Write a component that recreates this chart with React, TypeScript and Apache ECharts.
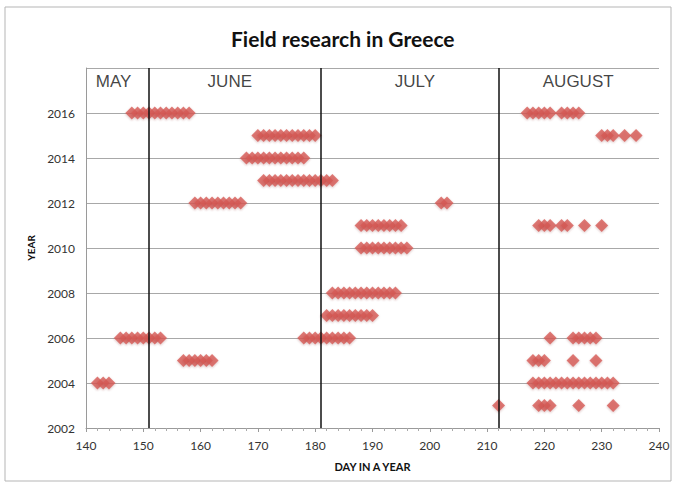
import React, { useEffect, useRef } from "react";
import * as echarts from "echarts";

const titleText = "Field research in Greece";
const xAxisName = "DAY IN A YEAR";
const yAxisName = "YEAR";

// Days of the year with field research, per year
const days2016 = [148, 149, 150, 151, 152, 153, 154, 155, 156, 157, 158, 217, 218, 219, 220, 221, 223, 224, 225, 226];
const days2015 = [170, 171, 172, 173, 174, 175, 176, 177, 178, 179, 180, 230, 231, 232, 234, 236];
const days2014 = [168, 169, 170, 171, 172, 173, 174, 175, 176, 177, 178];
const days2013 = [171, 172, 173, 174, 175, 176, 177, 178, 179, 180, 181, 182, 183];
const days2012 = [159, 160, 161, 162, 163, 164, 165, 166, 167, 202, 203];
const days2011 = [188, 189, 190, 191, 192, 193, 194, 195, 219, 220, 221, 223, 224, 227, 230];
const days2010 = [188, 189, 190, 191, 192, 193, 194, 195, 196];
const days2008 = [183, 184, 185, 186, 187, 188, 189, 190, 191, 192, 193, 194];
const days2007 = [182, 183, 184, 185, 186, 187, 188, 189, 190];
const days2006 = [146, 147, 148, 149, 150, 151, 152, 153, 178, 179, 180, 181, 182, 183, 184, 185, 186, 221, 225, 226, 227, 228, 229];
const days2005 = [157, 158, 159, 160, 161, 162, 218, 219, 220, 225, 229];
const days2004 = [142, 143, 144, 218, 219, 220, 221, 222, 223, 224, 225, 226, 227, 228, 229, 230, 231, 232];
const days2003 = [212, 219, 220, 221, 226, 232];

const years = [2016, 2015, 2014, 2013, 2012, 2011, 2010, 2008, 2007, 2006, 2005, 2004, 2003];
const daysByYear = [days2016, days2015, days2014, days2013, days2012, days2011, days2010, days2008, days2007, days2006, days2005, days2004, days2003];

// Month boundaries (last day of May, June, July)
const monthBoundaries = [151, 181, 212];
const monthNames = ["MAY", "JUNE", "JULY", "AUGUST"];
const monthLabelDays = [144.8, 165.1, 197.4, 225.9];
const monthLabelYear = 2017.4;

export default function App() {
  const ref = useRef<HTMLDivElement>(null);
  useEffect(() => {
    if (!ref.current) return;
    const chart = echarts.init(ref.current, undefined, { renderer: "svg" });
    const points: number[][] = [];
    years.forEach((y, i) => {
      daysByYear[i].forEach((d) => points.push([d, y]));
    });
    const option = {
      animation: false,
      backgroundColor: "#ffffff",
      title: {
        text: titleText,
        left: 226,
        top: 23,
        textStyle: { fontFamily: "Lato", fontWeight: "bold", fontSize: 21, color: "#111" },
      },
      graphic: [
        {
          type: "rect",
          shape: { x: 5, y: 7, width: 666, height: 474 },
          style: { fill: "none", stroke: "#b5b5b5", lineWidth: 1 },
          silent: true,
        },
      ],
      grid: { left: 86, right: 18, top: 68, bottom: 59 },
      xAxis: {
        type: "value",
        min: 140,
        max: 240,
        interval: 10,
        name: xAxisName,
        nameLocation: "middle",
        nameGap: 33,
        nameTextStyle: { fontFamily: "Lato", fontWeight: "bold", fontSize: 11, color: "#111" },
        axisLine: { show: true, lineStyle: { color: "#9a9a9a" } },
        axisTick: { show: true, length: 4, lineStyle: { color: "#9a9a9a" } },
        minorTick: { show: true, splitNumber: 5, length: 3, lineStyle: { color: "#aaa" } },
        splitLine: { show: false },
        axisLabel: { fontFamily: "Lato", fontSize: 12, color: "#333", margin: 11 },
      },
      yAxis: {
        type: "value",
        min: 2002,
        max: 2018,
        interval: 2,
        name: yAxisName,
        nameLocation: "middle",
        nameGap: 48,
        nameRotate: 90,
        nameTextStyle: { fontFamily: "Lato", fontWeight: "bold", fontSize: 10, color: "#111" },
        axisLine: { show: true, lineStyle: { color: "#9a9a9a" } },
        axisTick: { show: false },
        splitLine: { show: true, lineStyle: { color: "#a8a8a8", width: 1 } },
        axisLabel: {
          fontFamily: "Lato",
          fontSize: 12,
          color: "#333",
          margin: 11,
          formatter: (v: number) => (v === 2018 ? "" : String(v)),
        },
      },
      series: [
        {
          type: "scatter",
          symbol: "diamond",
          symbolSize: 13,
          data: points,
          itemStyle: {
            color: "#d75a55",
            shadowBlur: 2,
            shadowColor: "rgba(120,40,40,0.35)",
            shadowOffsetY: 1,
          },
          markLine: {
            silent: true,
            symbol: "none",
            label: { show: false },
            lineStyle: { color: "#111", width: 1.5, type: "solid" },
            data: monthBoundaries.map((x) => ({ xAxis: x })),
          },
          z: 3,
        },
        {
          type: "scatter",
          symbolSize: 0,
          silent: true,
          data: monthNames.map((n, i) => ({ name: n, value: [monthLabelDays[i], monthLabelYear] })),
          label: {
            show: true,
            position: "inside",
            formatter: (p: any) => p.name,
            fontFamily: "Liberation Sans",
            fontSize: 17,
            color: "#111",
          },
        },
      ],
    };
    chart.setOption(option);
    return () => chart.dispose();
  }, []);
  return (
    <div
      ref={ref}
      style={{ position: "absolute", left: 0, top: 0, width: 677, height: 487 }}
    />
  );
}
